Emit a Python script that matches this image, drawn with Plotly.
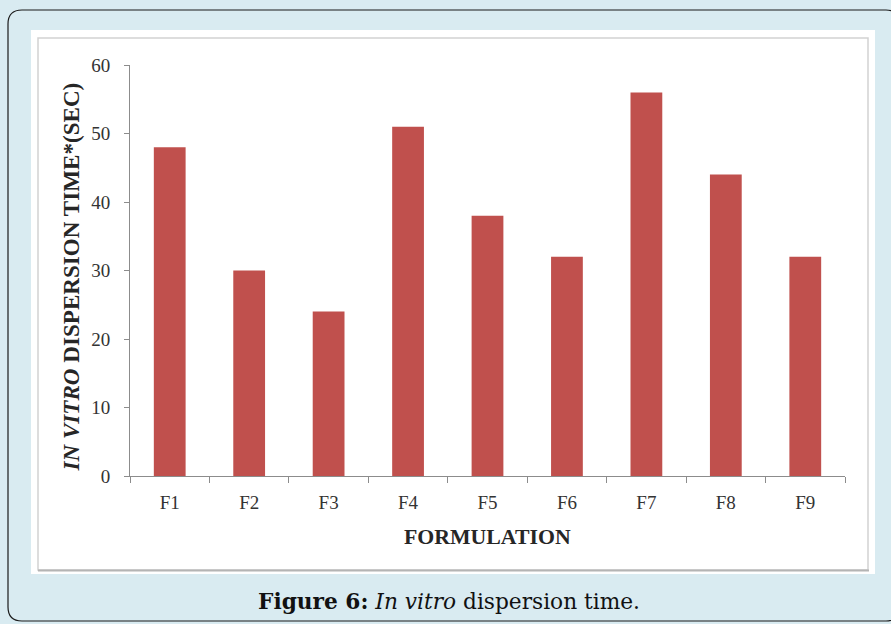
"""In vitro dispersion time bar chart."""

import plotly.graph_objects as go

W, H = 891, 624

formulations = ["F1", "F2", "F3", "F4", "F5", "F6", "F7", "F8", "F9"]
dispersion_sec = [48, 30, 24, 51, 38, 32, 56, 44, 32]
y_ticks = [0, 10, 20, 30, 40, 50, 60]

BAR_RED = "#C0504D"
AXIS_GREY = "#8C8C8C"
BG_BLUE = "#D9EBF1"


def px(x):
    return x / W


def py(y):
    return 1 - y / H


def rounded_rect(x0, y0, x1, y1, r):
    # pixel coords -> paper path
    pts = [
        f"M {px(x0 + r)} {py(y0)}",
        f"L {px(x1 - r)} {py(y0)}",
        f"Q {px(x1)} {py(y0)} {px(x1)} {py(y0 + r)}",
        f"L {px(x1)} {py(y1 - r)}",
        f"Q {px(x1)} {py(y1)} {px(x1 - r)} {py(y1)}",
        f"L {px(x0 + r)} {py(y1)}",
        f"Q {px(x0)} {py(y1)} {px(x0)} {py(y1 - r)}",
        f"L {px(x0)} {py(y0 + r)}",
        f"Q {px(x0)} {py(y0)} {px(x0 + r)} {py(y0)}",
        "Z",
    ]
    return " ".join(pts)


fig = go.Figure(
    go.Bar(
        x=formulations,
        y=dispersion_sec,
        marker=dict(color=BAR_RED, line=dict(width=0)),
        width=0.4,
    )
)

tick_font = dict(family="Liberation Serif, Times New Roman, serif", size=19, color="#333333")
title_font = dict(family="Liberation Serif, Times New Roman, serif", size=21.8, color="#262626")

fig.update_layout(
    width=W,
    height=H,
    margin=dict(l=0, r=0, t=0, b=0, autoexpand=False),
    paper_bgcolor=BG_BLUE,
    plot_bgcolor="rgba(0,0,0,0)",
    showlegend=False,
    bargap=0.6,
    xaxis=dict(
        domain=[px(130), px(845)],
        showline=True,
        linecolor=AXIS_GREY,
        linewidth=1,
        ticks="outside",
        tickson="boundaries",
        ticklen=6,
        tickcolor=AXIS_GREY,
        tickfont=tick_font,
        ticklabelstandoff=9,
        showgrid=False,
        zeroline=False,
        automargin=False,
    ),
    yaxis=dict(
        domain=[py(476), py(65)],
        range=[0, 60],
        tickvals=y_ticks,
        showline=True,
        linecolor=AXIS_GREY,
        linewidth=1,
        ticks="outside",
        ticklen=5,
        tickcolor=AXIS_GREY,
        tickfont=tick_font,
        ticklabelstandoff=10,
        showgrid=False,
        zeroline=False,
        automargin=False,
    ),
    shapes=[
        # outer rounded frame
        dict(type="path", xref="paper", yref="paper", path=rounded_rect(8, 10, 900, 621, 14),
             line=dict(color="#1a1a1a", width=1.2), fillcolor=BG_BLUE, layer="below"),
        # white chart panel
        dict(type="rect", xref="paper", yref="paper", x0=px(31), x1=px(875), y0=py(574), y1=py(30),
             line=dict(width=0), fillcolor="white", layer="below"),
        # inner grey frame, a bit darker along the bottom
        dict(type="rect", xref="paper", yref="paper", x0=px(38), x1=px(868), y0=py(570), y1=py(38),
             line=dict(color="#D2D2D2", width=1.5), fillcolor="rgba(0,0,0,0)", layer="below"),
        dict(type="line", xref="paper", yref="paper", x0=px(38), x1=px(869), y0=py(570.5), y1=py(570.5),
             line=dict(color="#B4B4B4", width=2), layer="below"),
    ],
    annotations=[
        dict(text="<b>FORMULATION</b>", x=px(488), y=py(537), xref="paper", yref="paper",
             xanchor="center", yanchor="middle", showarrow=False, font=title_font),
        dict(text="<b><i>IN VITRO</i> DISPERSION TIME*(SEC)</b>", x=px(70), y=py(277.5),
             xref="paper", yref="paper", xanchor="center", yanchor="middle",
             textangle=-90, showarrow=False, font=dict(title_font, size=23.1)),
        dict(text="<b>Figure 6:</b> <i>In vitro</i> dispersion time.", x=px(449), y=py(601),
             xref="paper", yref="paper", xanchor="center", yanchor="middle", showarrow=False,
             font=dict(family="DejaVu Serif, serif", size=21.7, color="#111111")),
    ],
)

# pin the plot to the page corner so the picture lines up with the window
pin_js = (
    "document.body.style.margin='0';"
    "var d=document.getElementById('{plot_id}');"
    "d.style.position='fixed';d.style.left='0';d.style.top='0';"
    "Plotly.relayout(d,{width:%d,height:%d});" % (W, H)
)

fig.write_html(
    "out.html",
    post_script=pin_js,
    config={"responsive": False, "displayModeBar": False},
)
